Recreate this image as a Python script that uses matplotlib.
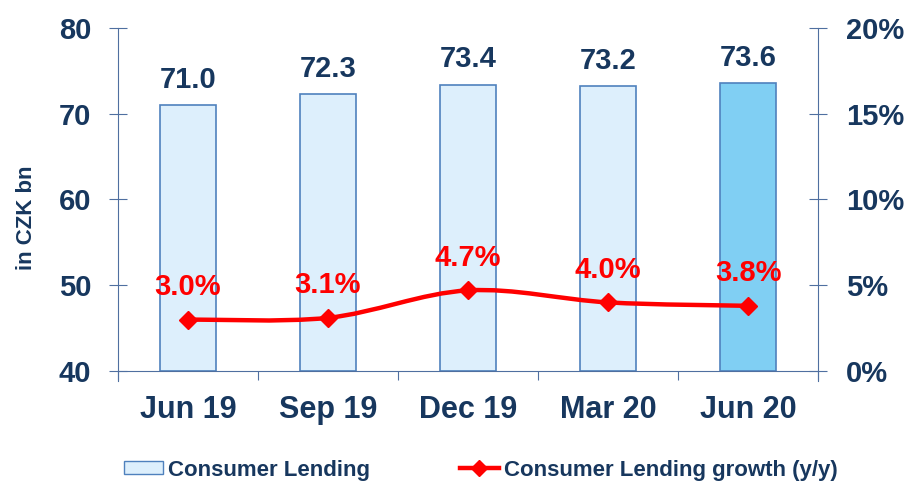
import numpy as np
import matplotlib.pyplot as plt
from matplotlib.path import Path
from matplotlib.patches import PathPatch, Patch
from matplotlib.lines import Line2D

plt.rcParams['font.family'] = ['Liberation Sans', 'DejaVu Sans']
plt.rcParams['font.weight'] = 'bold'

NAVY = '#17375E'
RED = '#FF0000'
AXIS_COL = '#4F6FA0'

categories = ['Jun 19', 'Sep 19', 'Dec 19', 'Mar 20', 'Jun 20']
lending = [71.0, 72.3, 73.4, 73.2, 73.6]
growth = [3.0, 3.1, 4.7, 4.0, 3.8]
bar_colors = ['#DDEFFC', '#DDEFFC', '#DDEFFC', '#DDEFFC', '#80CFF3']

fig = plt.figure(figsize=(9.07, 4.82), dpi=100)
ax = fig.add_axes([0.130, 0.2303, 0.772, 0.7116])
ax2 = ax.twinx()

x = np.arange(len(categories))
ax.bar(x, [v - 40 for v in lending], bottom=40, width=0.4, color=bar_colors,
       edgecolor='#4F81BD', linewidth=1.2, zorder=2)
for xi, v in zip(x, lending):
    ax.text(xi, v + 1.3, f'{v:.1f}', ha='center', va='bottom', fontsize=21,
            color=NAVY, fontweight='bold')

ax.set_xlim(-0.5, len(categories) - 0.5)
ax.set_ylim(40, 80)
ax.set_yticks([40, 50, 60, 70, 80])
ax2.set_ylim(0, 20)
ax2.set_yticks([0, 5, 10, 15, 20])
ax2.set_yticklabels([f'{t}%' for t in [0, 5, 10, 15, 20]])

# smooth growth line (bezier through the points, like the Excel smoothed line)
pts = np.column_stack([x, growth]).astype(float)
verts = [tuple(pts[0])]
codes = [Path.MOVETO]
for i in range(len(pts) - 1):
    p0 = pts[i - 1] if i > 0 else pts[i]
    p1 = pts[i]
    p2 = pts[i + 1]
    p3 = pts[i + 2] if i + 2 < len(pts) else pts[i + 1]
    c1 = p1 + (p2 - p0) / 6.0
    c2 = p2 - (p3 - p1) / 6.0
    verts += [tuple(c1), tuple(c2), tuple(p2)]
    codes += [Path.CURVE4] * 3
ax2.add_patch(PathPatch(Path(verts, codes), facecolor='none', edgecolor=RED,
                        linewidth=3.2, zorder=3))
ax2.plot(x, growth, linestyle='none', marker='D', markersize=9, color=RED, zorder=4)
for xi, g in zip(x, growth):
    ax2.text(xi, g + 1.1, f'{g:.1f}%', ha='center', va='bottom', fontsize=21,
             color=RED, fontweight='bold')

for a in (ax, ax2):
    for s in a.spines.values():
        s.set_visible(False)

ax.spines['left'].set_visible(True)
ax.spines['left'].set_color(AXIS_COL)
ax.spines['left'].set_bounds(38.8, 80)
ax.spines['bottom'].set_visible(True)
ax.spines['bottom'].set_color(AXIS_COL)
ax2.spines['right'].set_visible(True)
ax2.spines['right'].set_color(AXIS_COL)
ax2.spines['right'].set_bounds(-0.6, 20)

ax.tick_params(axis='y', direction='inout', length=13.5, width=0.8, color=AXIS_COL,
               pad=12.5, labelsize=21, labelcolor=NAVY)
ax2.tick_params(axis='y', direction='inout', length=13.5, width=0.8, color=AXIS_COL,
                pad=13.5, labelsize=21, labelcolor=NAVY)
ax.set_xticks(x)
ax.set_xticklabels(categories)
ax.set_xticks(np.arange(len(categories) + 1) - 0.5, minor=True)
ax.tick_params(axis='x', which='major', length=0, pad=17, labelsize=22, labelcolor=NAVY)
ax.tick_params(axis='x', which='minor', direction='out', length=6.5, width=0.8, color=AXIS_COL)
for lbl in ax.get_xticklabels() + ax.get_yticklabels() + ax2.get_yticklabels():
    lbl.set_fontweight('bold')

ax.set_ylabel('in CZK bn', fontsize=16, color=NAVY, fontweight='bold')
ax.yaxis.set_label_coords(-0.115, 0.446)
ax.set_zorder(ax2.get_zorder() - 1)
ax2.patch.set_visible(False)

handles = [Patch(facecolor='#DDEFFC', edgecolor='#4F81BD', label='Consumer Lending'),
           Line2D([0], [0], color=RED, linewidth=3.2, marker='D', markersize=8,
                  label='Consumer Lending growth (y/y)')]
fig.legend(handles=handles, loc='lower left', bbox_to_anchor=(124 / 907, 0.003), ncol=2,
           frameon=False, handlelength=1.75, handleheight=0.55, handletextpad=0.23,
           columnspacing=4.05, borderpad=0, borderaxespad=0, labelcolor=NAVY,
           prop={'weight': 'bold', 'size': 16})

fig.savefig('out.png', dpi=100)
